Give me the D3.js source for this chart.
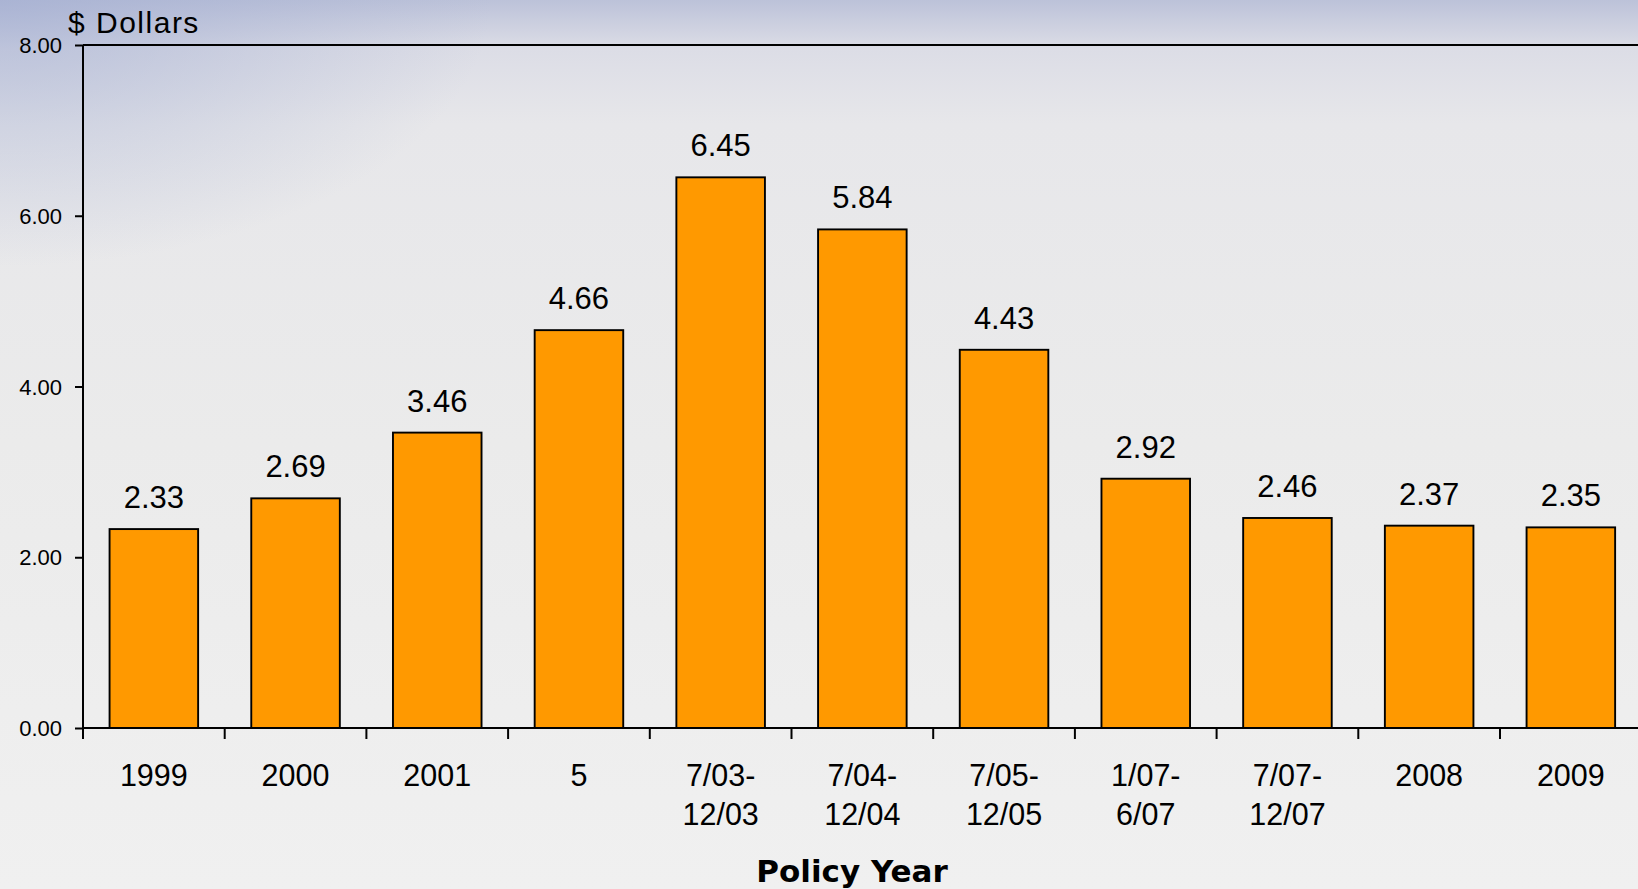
<!DOCTYPE html>
<html>
<head>
<meta charset="utf-8">
<script src="https://cdn.jsdelivr.net/npm/d3@7"></script>
<style>
  html, body { margin: 0; padding: 0; overflow: hidden; }
  svg { display: block; }
</style>
</head>
<body>
<svg id="chart" width="1638" height="889"></svg>
<script>
// Average cost per policy, by policy year
const categories = ["1999", "2000", "2001", "5", "7/03-\n12/03", "7/04-\n12/04", "7/05-\n12/05", "1/07-\n6/07", "7/07-\n12/07", "2008", "2009"];
const values = [2.33, 2.69, 3.46, 4.66, 6.45, 5.84, 4.43, 2.92, 2.46, 2.37, 2.35];
const yTicks = [0, 2, 4, 6, 8];

const W = 1638, H = 889;
const plotLeft = 83, plotTop = 45, plotBottom = 728;
const step = 141.7;

const svg = d3.select("#chart");
const defs = svg.append("defs");

const bg = defs.append("linearGradient").attr("id", "bg").attr("x1", 0).attr("y1", 0).attr("x2", 0).attr("y2", 1);
[[0, "#bcc2d9"], [0.055, "#dcdde6"], [0.14, "#e7e7ea"], [0.5, "#ebebeb"], [1, "#f0f0f0"]]
  .forEach(([o, c]) => bg.append("stop").attr("offset", o).attr("stop-color", c));

const glow = defs.append("radialGradient").attr("id", "glow")
  .attr("cx", 0).attr("cy", 0).attr("r", 0.3).attr("gradientUnits", "objectBoundingBox");
glow.append("stop").attr("offset", 0).attr("stop-color", "#9eaad0").attr("stop-opacity", 0.6);
glow.append("stop").attr("offset", 1).attr("stop-color", "#9eaad0").attr("stop-opacity", 0);

svg.append("rect").attr("width", W).attr("height", H).attr("fill", "url(#bg)");
svg.append("rect").attr("width", W).attr("height", H).attr("fill", "url(#glow)");

const x = d3.scaleBand()
  .domain(categories)
  .range([plotLeft, plotLeft + step * categories.length])
  .paddingInner(0.375)
  .paddingOuter(0.1875);

const y = d3.scaleLinear().domain([0, 8]).range([plotBottom, plotTop]);

const font = "'Liberation Sans', Arial, sans-serif";

// Bars
svg.append("g").selectAll("rect")
  .data(values)
  .join("rect")
  .attr("x", (d, i) => x(categories[i]))
  .attr("y", d => y(d))
  .attr("width", x.bandwidth())
  .attr("height", d => y(0) - y(d))
  .attr("fill", "#ff9900")
  .attr("stroke", "#000")
  .attr("stroke-width", 1.9);

// Value labels
svg.append("g").selectAll("text")
  .data(values)
  .join("text")
  .attr("x", (d, i) => x(categories[i]) + x.bandwidth() / 2)
  .attr("y", d => y(d) - 21)
  .attr("text-anchor", "middle")
  .attr("font-family", font)
  .attr("font-size", 31)
  .attr("fill", "#000")
  .text(d => d.toFixed(2));

// Top border of plot area
svg.append("line")
  .attr("x1", plotLeft).attr("x2", W)
  .attr("y1", y(8)).attr("y2", y(8))
  .attr("stroke", "#000").attr("stroke-width", 2.2);

// Y axis
const yAxis = svg.append("g")
  .attr("transform", `translate(${plotLeft},0)`)
  .call(d3.axisLeft(y).tickValues(yTicks).tickFormat(d3.format(".2f")).tickSize(8).tickPadding(13));
yAxis.select(".domain").attr("stroke-width", 2).attr("d", `M0,${plotTop}V${plotBottom}`);
yAxis.selectAll(".tick line").attr("stroke-width", 2);
yAxis.selectAll("text")
  .attr("font-family", font).attr("font-size", 22).attr("fill", "#000")
  .attr("dy", "0.35em");

// X axis: ticks sit on band boundaries
const boundaries = d3.range(categories.length + 1).map(i => plotLeft + i * step);
const xAxis = svg.append("g");
xAxis.append("line")
  .attr("x1", plotLeft).attr("x2", W)
  .attr("y1", plotBottom).attr("y2", plotBottom)
  .attr("stroke", "#000").attr("stroke-width", 2);
xAxis.selectAll(".xtick")
  .data(boundaries)
  .join("line")
  .attr("class", "xtick")
  .attr("x1", d => d).attr("x2", d => d)
  .attr("y1", plotBottom).attr("y2", plotBottom + 11)
  .attr("stroke", "#000").attr("stroke-width", 2);

// Category labels
const catLabels = svg.append("g").selectAll("text")
  .data(categories)
  .join("text")
  .attr("x", d => x(d) + x.bandwidth() / 2)
  .attr("y", 786)
  .attr("text-anchor", "middle")
  .attr("font-family", font)
  .attr("font-size", 30.5)
  .attr("fill", "#000");
catLabels.each(function (d) {
  const t = d3.select(this);
  const cx = +t.attr("x");
  d.split("\n").forEach((line, i) => {
    t.append("tspan").attr("x", cx).attr("dy", i === 0 ? 0 : 39).text(line);
  });
});

// Axis titles
svg.append("text")
  .attr("x", 68).attr("y", 33)
  .attr("font-family", font)
  .attr("font-size", 30)
  .attr("letter-spacing", 1.5)
  .attr("fill", "#000")
  .text("$ Dollars");

svg.append("text")
  .attr("x", 852).attr("y", 882)
  .attr("text-anchor", "middle")
  .attr("font-family", "'DejaVu Sans', sans-serif")
  .attr("font-weight", "bold")
  .attr("font-size", 31)
  .attr("fill", "#000")
  .text("Policy Year");
</script>
</body>
</html>
